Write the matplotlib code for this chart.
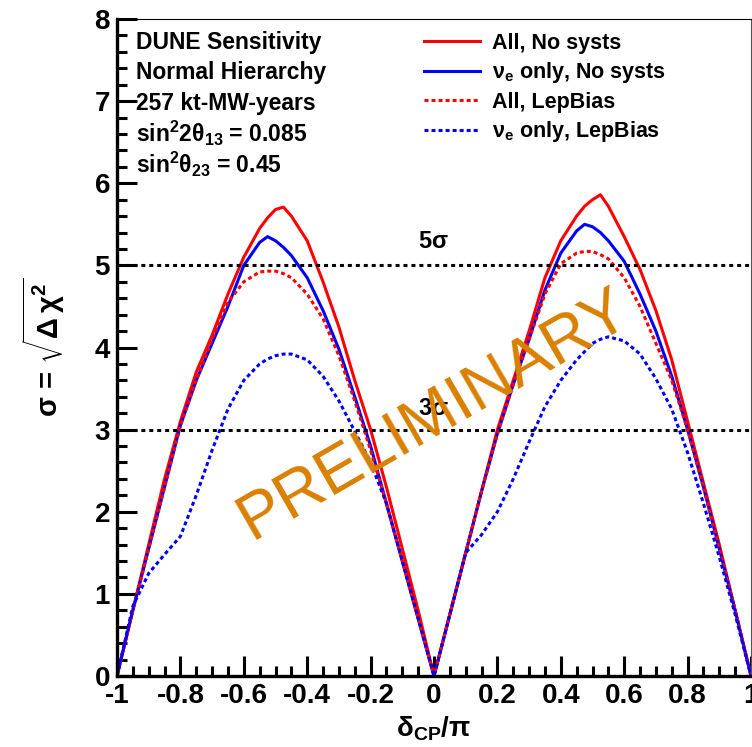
import numpy as np
import matplotlib
matplotlib.use("Agg")
import matplotlib.pyplot as plt
from matplotlib.ticker import MultipleLocator

plt.rcParams['font.family'] = ['Liberation Sans', 'DejaVu Sans']
plt.rcParams['font.weight'] = 'bold'
plt.rcParams['mathtext.fontset'] = 'custom'
plt.rcParams['mathtext.rm'] = 'Liberation Sans'
plt.rcParams['mathtext.bf'] = 'Liberation Sans:bold'
plt.rcParams['mathtext.it'] = 'Liberation Sans:italic'
plt.rcParams['mathtext.default'] = 'rm'

# delta_CP / pi sample points (extra points near the peaks)
dcp = [-1.0, -0.95, -0.9, -0.85, -0.8, -0.75, -0.7, -0.65, -0.6, -0.55,
       -0.525, -0.5, -0.475, -0.45, -0.4, -0.35, -0.3, -0.25, -0.2, -0.15, -0.1, -0.05,
       0.0, 0.05, 0.1, 0.15, 0.2, 0.25, 0.3, 0.35, 0.4, 0.45,
       0.475, 0.5, 0.525, 0.55, 0.6, 0.65, 0.7, 0.75, 0.8, 0.85, 0.9, 0.95, 1.0]

# All, No systs
all_nosyst = [0.0, 0.8, 1.6, 2.4, 3.1, 3.7, 4.15, 4.65, 5.1, 5.45,
              5.58, 5.68, 5.71, 5.6, 5.3, 4.8, 4.25, 3.6, 3.0, 2.3, 1.55, 0.8,
              0.0, 0.75, 1.5, 2.25, 3.0, 3.6, 4.2, 4.85, 5.3, 5.6,
              5.72, 5.8, 5.86, 5.72, 5.35, 4.95, 4.45, 3.85, 3.1, 2.35, 1.6, 0.8, 0.0]
# nu_e only, No systs
nue_nosyst = [0.0, 0.8, 1.55, 2.3, 3.05, 3.6, 4.05, 4.5, 5.0, 5.28,
              5.35, 5.3, 5.22, 5.12, 4.85, 4.45, 3.98, 3.4, 2.8, 2.1, 1.4, 0.7,
              0.0, 0.75, 1.5, 2.25, 2.95, 3.55, 4.1, 4.7, 5.15, 5.42,
              5.5, 5.47, 5.4, 5.3, 5.05, 4.65, 4.2, 3.65, 3.0, 2.3, 1.55, 0.8, 0.0]
# All, LepBias
all_lepbias = [0.0, 0.8, 1.55, 2.3, 3.05, 3.6, 4.1, 4.55, 4.8, 4.92,
               4.93, 4.93, 4.9, 4.85, 4.65, 4.35, 3.9, 3.35, 2.75, 2.1, 1.4, 0.7,
               0.0, 0.75, 1.5, 2.25, 2.95, 3.55, 4.1, 4.65, 5.02, 5.15,
               5.17, 5.17, 5.13, 5.08, 4.85, 4.5, 4.05, 3.6, 3.0, 2.3, 1.55, 0.8, 0.0]
# nu_e only, LepBias
nue_lepbias = [0.0, 0.85, 1.25, 1.48, 1.7, 2.2, 2.75, 3.25, 3.6, 3.8,
               3.86, 3.9, 3.92, 3.92, 3.85, 3.65, 3.35, 2.98, 2.6, 2.1, 1.4, 0.7,
               0.0, 0.75, 1.5, 1.72, 2.0, 2.4, 2.85, 3.28, 3.6, 3.85,
               3.95, 4.05, 4.1, 4.13, 4.08, 3.92, 3.62, 3.25, 2.72, 2.1, 1.45, 0.75, 0.0]

labels = ['All, No systs', r'$\nu_{\mathbf{e}}$ only, No systs',
          'All, LepBias', r'$\nu_{\mathbf{e}}$ only, LepBias']

info_lines = ['DUNE Sensitivity', 'Normal Hierarchy', '257 kt-MW-years',
              r'sin$^{\mathbf{2}}$2$\theta_{\mathbf{13}}$ = 0.085',
              r'sin$^{\mathbf{2}}$$\theta_{\mathbf{23}}$ = 0.45']

xtick_labels = ['-1', '-0.8', '-0.6', '-0.4', '-0.2', '0', '0.2', '0.4', '0.6', '0.8', '1']

fig = plt.figure(figsize=(7.52, 7.47), dpi=100)
ax = fig.add_axes([117 / 752, 1 - 676 / 747, 634 / 752, 657 / 747])

dots = (0, (1.3, 1.0))
l1, = ax.plot(dcp, all_nosyst, color='red', lw=2.2)
l2, = ax.plot(dcp, nue_nosyst, color='blue', lw=2.2)
l3, = ax.plot(dcp, all_lepbias, color='red', lw=2.2, ls=dots)
l4, = ax.plot(dcp, nue_lepbias, color='blue', lw=2.2, ls=dots)

# 5 sigma / 3 sigma reference lines
for lev, ty in ((5, 5.29), (3, 3.26)):
    ax.axhline(lev, color='black', lw=2.2, ls=(0, (1.3, 1.3)))
    ax.text(-0.05, ty, r'%d$\sigma$' % lev, fontsize=17, va='center', ha='left')

ax.set_xlim(-1, 1)
ax.set_ylim(0, 8)
ax.set_xticks(np.linspace(-1, 1, 11))
ax.set_xticklabels(xtick_labels)
ax.xaxis.set_minor_locator(MultipleLocator(0.05))
ax.yaxis.set_major_locator(MultipleLocator(1))
ax.yaxis.set_minor_locator(MultipleLocator(0.2))
ax.tick_params(which='both', direction='in', top=False, right=False, width=2.2,
               labelsize=20, pad=5)
ax.tick_params(which='major', length=14.5)
ax.tick_params(which='minor', length=7)
for s in ('left', 'bottom'):
    ax.spines[s].set_linewidth(2.4)
for s in ('top', 'right'):
    ax.spines[s].set_linewidth(0.8)
ax.spines['right'].set_color('#555555')

ax.set_xlabel(r'$\delta_{\mathbf{CP}}/\pi$', fontsize=20, labelpad=4)
fig.text(44 / 752, 1 - 347 / 747, r'$\mathbf{\sigma}$ = $\sqrt{\Delta\,\chi^{\mathbf{2}}}$',
         rotation=90, fontsize=21, ha='center', va='center')

for i, line in enumerate(info_lines):
    ax.text(0.03, 1 - (23 + 30.5 * i) / 657, line, transform=ax.transAxes,
            fontsize=16.5, va='center', ha='left')

ax.legend([l1, l2, l3, l4], labels, loc='upper left', frameon=False,
          bbox_to_anchor=((424 - 117) / 634, 1 - 14 / 657), fontsize=15.5,
          handlelength=2.6, handletextpad=0.55, labelspacing=0.3, borderpad=0,
          borderaxespad=0)

ax.text(0.0, 3.18, 'PRELIMINARY', color='#d98000', fontsize=47, fontweight='normal',
        rotation=30, rotation_mode='anchor', ha='center', va='center')

fig.savefig('out.png', dpi=100)
